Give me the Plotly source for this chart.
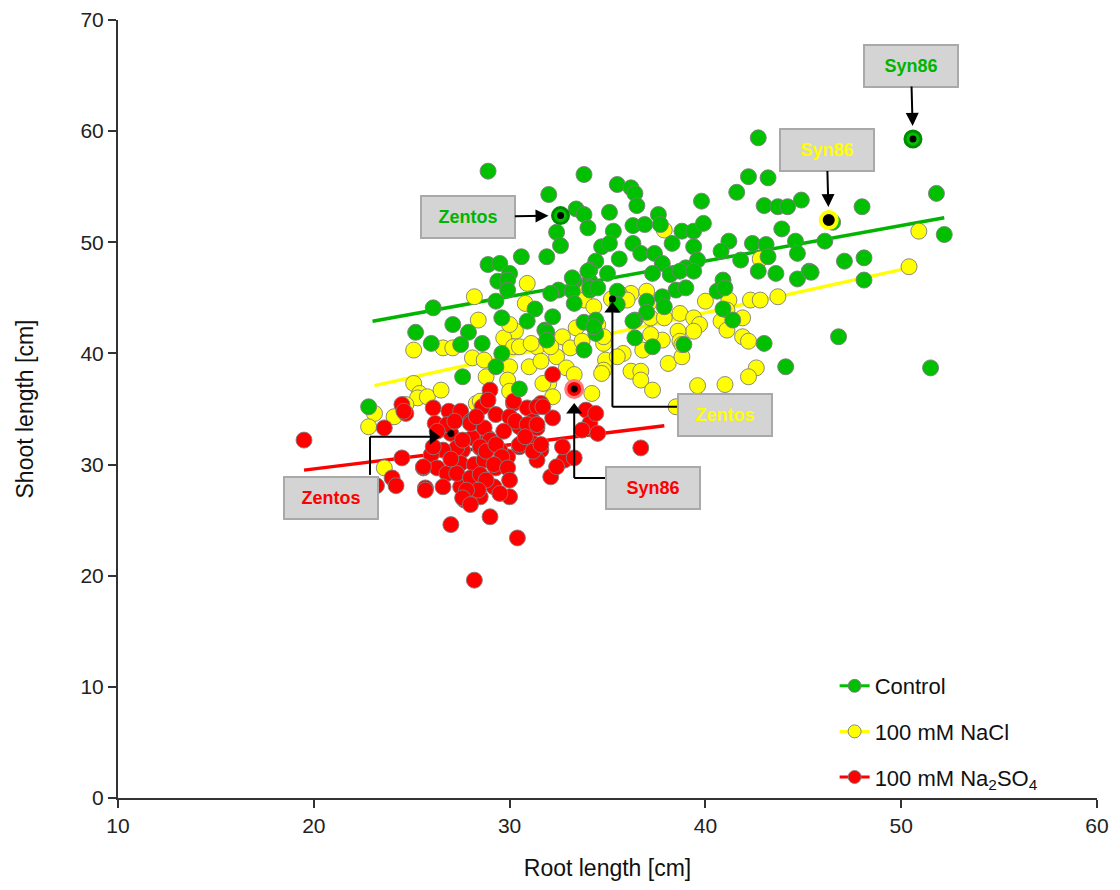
import plotly.graph_objects as go

# ---------------- data ----------------
control_root = [28.9, 32.0, 32.6, 33.8, 33.4, 33.8, 32.4, 32.6, 31.9, 34.0,
                35.5, 36.2, 36.4, 36.5, 35.1, 35.3, 36.3, 36.9, 37.6, 37.7,
                34.7, 35.1, 36.3, 36.7, 35.6, 34.4, 34.1, 37.4, 37.8, 38.3,
                38.8, 39.4, 39.9, 39.4, 39.6, 39.0, 38.2, 37.3, 38.5, 35.0,
                34.1, 33.3, 32.5, 33.2, 34.1, 35.5, 33.3, 37.0, 37.8, 37.9,
                37.0, 36.4, 33.8, 34.4, 34.4, 32.2, 31.8, 36.4, 37.3, 38.9,
                33.8, 40.6, 40.9, 40.9, 41.4, 41.2, 41.8, 42.4, 43.1, 43.2,
                42.7, 43.6, 43.9, 44.6, 44.7, 44.7, 45.3, 43.0, 44.1, 42.7,
                42.2, 43.2, 41.6, 44.9, 39.8, 43.0, 43.7, 44.2, 51.8, 48.0,
                46.5, 46.1, 40.8, 47.1, 48.1, 52.2, 45.4, 48.1, 46.8, 51.5,
                50.6, 28.9, 29.5, 30.6, 30.0, 29.4, 29.9, 29.9, 29.3, 26.1,
                31.3, 32.1, 29.6, 30.9, 27.1, 25.2, 27.9, 26.0, 27.5, 28.6,
                29.6, 29.3, 27.6, 31.9, 30.5, 22.8, 31.9, 33.2, 34.0, 34.1,
                34.3, 34.5, 35.5, 36.3, 39.0, 38.7, 39.4, 41.0]
control_shoot = [56.4, 54.3, 52.4, 56.1, 53.0, 52.5, 50.9, 49.7, 48.7, 51.3,
                 55.2, 54.9, 54.4, 53.3, 52.7, 51.0, 51.5, 51.6, 52.5, 51.6,
                 49.6, 49.9, 49.9, 49.0, 48.5, 48.3, 47.5, 49.0, 48.1, 49.9,
                 51.0, 51.0, 51.7, 49.6, 48.4, 47.7, 47.1, 47.2, 45.7, 47.2,
                 46.5, 46.5, 45.7, 45.6, 45.7, 45.6, 44.5, 44.7, 45.1, 44.2,
                 43.7, 43.0, 42.8, 43.0, 41.8, 43.3, 42.1, 41.4, 40.6, 40.8,
                 40.3, 45.6, 46.6, 44.0, 43.0, 50.1, 48.4, 49.9, 49.8, 48.7,
                 47.4, 47.2, 51.2, 50.1, 49.0, 46.7, 47.4, 40.9, 38.8, 59.4,
                 55.9, 55.8, 54.5, 53.8, 53.7, 53.3, 53.2, 53.2, 54.4, 53.2,
                 51.8, 50.1, 49.2, 48.3, 48.6, 50.7, 47.3, 46.6, 41.5, 38.7,
                 59.3, 48.0, 48.1, 48.7, 47.2, 46.5, 46.6, 45.7, 44.7, 44.1,
                 44.0, 45.4, 43.2, 42.9, 42.6, 41.9, 41.9, 40.9, 40.8, 40.9,
                 40.0, 38.8, 37.9, 41.9, 36.8, 35.2, 41.2, 46.8, 47.4, 45.9,
                 42.4, 45.9, 44.4, 42.9, 45.9, 47.4, 47.4, 45.9]

nacl_root = [30.9, 28.2, 30.8, 28.4, 30.3, 29.7, 25.1, 26.6, 27.1, 28.1,
             28.7, 30.2, 30.0, 31.0, 28.8, 29.9, 25.1, 25.4, 25.3, 32.0,
             32.4, 31.4, 30.0, 30.5, 31.1, 31.6, 32.7, 33.1, 33.4, 33.7,
             32.9, 33.3, 30.0, 31.7, 32.2, 25.8, 28.3, 34.2, 33.7, 34.5,
             33.9, 33.9, 36.2, 37.0, 37.1, 37.2, 37.9, 38.7, 39.4, 39.7,
             40.0, 39.4, 38.6, 38.7, 37.8, 37.2, 36.8, 35.8, 34.8, 34.9,
             34.8, 36.2, 36.7, 36.7, 37.3, 38.1, 38.8, 40.8, 41.1, 41.9,
             41.9, 42.2, 42.3, 42.8, 43.7, 42.6, 42.2, 41.0, 38.5, 46.3,
             50.9, 50.4, 42.8, 41.2, 24.7, 24.1, 23.6, 28.5, 28.8, 23.1,
             22.8, 35.2, 37.9, 35.6, 36.0, 33.6, 33.8, 34.3, 32.1, 34.8,
             35.5, 34.7, 39.6, 41.1, 38.8, 26.5]
nacl_shoot = [46.3, 45.1, 44.5, 43.0, 42.0, 41.4, 40.3, 40.5, 40.5, 39.6,
              39.4, 40.6, 38.8, 38.8, 37.9, 37.6, 37.3, 36.4, 36.0, 37.3,
              39.7, 40.6, 42.6, 40.6, 40.9, 39.3, 41.5, 40.5, 42.3, 41.1,
              38.7, 38.1, 36.6, 37.3, 36.1, 36.1, 35.5, 36.4, 45.0, 42.6,
              46.5, 45.7, 45.4, 45.6, 44.5, 43.2, 43.2, 43.6, 43.2, 42.6,
              44.7, 42.0, 42.0, 41.1, 41.2, 41.7, 40.3, 40.0, 40.9, 39.4,
              38.5, 38.4, 38.4, 37.6, 36.7, 39.1, 39.7, 42.9, 42.1, 43.2,
              41.5, 41.1, 44.8, 44.8, 45.1, 38.7, 37.9, 37.2, 35.2, 52.0,
              51.0, 47.8, 48.5, 44.8, 35.4, 34.3, 29.7, 35.7, 35.4, 34.6,
              33.4, 44.9, 51.1, 45.4, 44.8, 45.4, 44.8, 44.2, 40.6, 41.5,
              39.7, 38.2, 37.1, 43.9, 40.8, 36.7]

na2so4_root = [19.5, 24.5, 24.7, 23.6, 24.5, 24.0, 24.2, 23.2, 25.7, 25.6,
               26.1, 26.9, 27.0, 27.5, 28.0, 28.6, 29.3, 30.2, 30.9, 31.6,
               32.2, 32.2, 29.0, 30.2, 30.5, 31.2, 31.4, 28.1, 28.9, 28.5,
               27.6, 27.3, 26.6, 26.0, 26.3, 26.8, 27.5, 28.2, 28.7, 29.3,
               29.9, 29.5, 30.5, 31.2, 31.6, 31.4, 32.1, 32.8, 32.4, 32.7,
               27.5, 28.0, 27.7, 28.5, 29.2, 30.0, 27.0, 29.0, 30.4, 28.2,
               33.3, 30.2, 31.4, 33.9, 34.1, 33.7, 33.3, 26.2, 26.8, 27.3,
               28.0, 28.0, 28.7, 29.0, 28.5, 28.8, 27.6, 29.3, 29.6, 29.2,
               29.9, 30.0, 29.5, 30.5, 31.2, 31.6, 28.5, 28.8, 28.4, 27.8,
               27.6, 28.0, 26.6, 25.7, 30.0, 30.3, 30.9, 31.4, 36.7, 34.5,
               34.4, 31.7, 24.6, 26.1, 25.6, 26.3, 27.2, 27.0, 28.3, 29.7,
               30.8, 28.9]
na2so4_shoot = [32.2, 35.4, 34.6, 33.3, 30.6, 28.8, 28.1, 28.1, 27.9, 29.7,
                35.1, 34.8, 32.8, 34.8, 33.9, 35.2, 34.5, 35.5, 35.1, 35.5,
                34.2, 38.1, 36.7, 34.0, 33.4, 33.9, 33.3, 32.4, 32.4, 31.5,
                31.3, 31.5, 31.3, 30.9, 29.7, 29.2, 30.1, 30.0, 30.4, 29.7,
                30.7, 31.3, 31.6, 31.9, 31.3, 30.4, 28.9, 30.4, 29.8, 31.6,
                28.0, 27.7, 26.8, 27.1, 28.0, 27.1, 24.6, 25.3, 23.4, 19.6,
                36.8, 35.7, 35.2, 34.9, 33.7, 33.1, 30.6, 33.7, 33.6, 29.2,
                28.8, 33.7, 33.3, 32.2, 31.6, 31.2, 32.2, 31.8, 30.7, 30.0,
                29.7, 28.6, 27.4, 31.8, 31.2, 31.8, 29.1, 28.6, 27.7, 27.7,
                27.0, 26.4, 28.0, 27.7, 34.3, 33.9, 33.6, 33.6, 31.5, 32.8,
                34.6, 35.2, 34.8, 31.6, 29.8, 33.0, 33.9, 30.5, 34.3, 33.0,
                32.5, 35.8]

# regression line end points
control_fit_x = [23.0, 52.2]
control_fit_y = [42.9, 52.2]
nacl_fit_x = [23.1, 50.4]
nacl_fit_y = [37.1, 47.7]
na2so4_fit_x = [19.5, 37.9]
na2so4_fit_y = [29.5, 33.5]

# highlighted cultivars: [Zentos, Syn86]
cultivars = ["Zentos", "Syn86"]
control_hl_x = [32.6, 50.6]
control_hl_y = [52.4, 59.3]
nacl_hl_x = [35.25, 46.3]
nacl_hl_y = [44.9, 52.0]
na2so4_hl_x = [27.0, 33.3]
na2so4_hl_y = [32.8, 36.8]

GREEN = "#00c000"
YELLOW = "#ffff00"
RED = "#ff0000"
OUTLINE = "rgba(125,125,125,0.9)"
FONT = "Arial, 'Liberation Sans', sans-serif"

fig = go.Figure()

# regression lines (drawn below the points)
for fx, fy, col in [(control_fit_x, control_fit_y, "#00b400"),
                    (nacl_fit_x, nacl_fit_y, YELLOW),
                    (na2so4_fit_x, na2so4_fit_y, RED)]:
    fig.add_trace(go.Scatter(x=fx, y=fy, mode="lines", line=dict(color=col, width=3.5),
                             showlegend=False, hoverinfo="skip"))

# points
for xs, ys, col in [(nacl_root, nacl_shoot, YELLOW),
                    (na2so4_root, na2so4_shoot, RED),
                    (control_root, control_shoot, GREEN)]:
    fig.add_trace(go.Scatter(x=xs, y=ys, mode="markers",
                             marker=dict(size=16, color=col, line=dict(color=OUTLINE, width=1)),
                             showlegend=False))

# highlighted rings
fig.add_trace(go.Scatter(x=control_hl_x, y=control_hl_y, mode="markers", showlegend=False,
                         marker=dict(size=16, color=GREEN, line=dict(color="#008a00", width=3))))
fig.add_trace(go.Scatter(x=nacl_hl_x[1:], y=nacl_hl_y[1:], mode="markers", showlegend=False,
                         marker=dict(size=16, color="black", line=dict(color=YELLOW, width=4))))
fig.add_trace(go.Scatter(x=na2so4_hl_x[1:], y=na2so4_hl_y[1:], mode="markers", showlegend=False,
                         marker=dict(size=17, color=RED, line=dict(color="#ff7a7a", width=3))))
# black centre dots
fig.add_trace(go.Scatter(x=control_hl_x + nacl_hl_x + na2so4_hl_x,
                         y=control_hl_y + nacl_hl_y + na2so4_hl_y,
                         mode="markers", showlegend=False,
                         marker=dict(size=7, color="black")))

# legend entries
for name, col, grp in [("Control", GREEN, "a"), ("100 mM NaCl", YELLOW, "b"),
                       ("100 mM Na<sub>2</sub>SO<sub>4</sub>", RED, "c")]:
    fig.add_trace(go.Scatter(x=[None], y=[None], mode="lines+markers", name=name,
                             legendgroup=grp,
                             line=dict(color=col, width=3),
                             marker=dict(size=13, color=col, line=dict(color=OUTLINE, width=1))))

box = dict(bgcolor="#d4d4d4", bordercolor="#a9a9a9", borderwidth=2, borderpad=4,
           width=84, height=32)
annotations = []
# straight arrow labels
for txt, col, px, py, tx, ty, sd in [
        ("Zentos", "#00b400", control_hl_x[0], control_hl_y[0], 27.87, 52.3, 12),
        ("Syn86", "#00b400", control_hl_x[1], control_hl_y[1], 50.5, 65.9, 13),
        ("Syn86", "#ffff00", nacl_hl_x[1], nacl_hl_y[1], 46.2, 58.3, 13)]:
    annotations.append(dict(x=px, y=py, ax=tx, ay=ty, xref="x", yref="y", axref="x", ayref="y",
                            text="<b>%s</b>" % txt, font=dict(family=FONT, size=18, color=col),
                            showarrow=True, arrowhead=2, arrowsize=1.3, arrowwidth=2,
                            arrowcolor="black", standoff=sd, **box))
# elbow labels: text boxes
for txt, col, tx, ty in [("Zentos", "#ffff00", 41.0, 34.5),
                         ("Syn86", "#ff0000", 37.32, 27.9),
                         ("Zentos", "#ff0000", 20.88, 27.0)]:
    annotations.append(dict(x=tx, y=ty, xref="x", yref="y", showarrow=False,
                            text="<b>%s</b>" % txt, font=dict(family=FONT, size=18, color=col),
                            **box))

# elbow connector lines: (box edge -> corner -> just before arrow head)
shapes = []
elbows = [
    [(38.7, 35.2), (nacl_hl_x[0], 35.2), (nacl_hl_x[0], 43.9)],
    [(35.13, 28.8), (na2so4_hl_x[1], 28.8), (na2so4_hl_x[1], 34.8)],
    [(22.87, 29.07), (22.87, 32.5), (26.0, 32.5)],
]
for pts in elbows:
    for (x0, y0), (x1, y1) in zip(pts[:-1], pts[1:]):
        shapes.append(dict(type="line", xref="x", yref="y", x0=x0, y0=y0, x1=x1, y1=y1,
                           line=dict(color="black", width=2)))

# arrow heads of the elbow connectors
fig.add_trace(go.Scatter(x=[nacl_hl_x[0], na2so4_hl_x[1], 26.1],
                         y=[44.0, 34.9, 32.5], mode="markers", showlegend=False,
                         hoverinfo="skip",
                         marker=dict(symbol=["triangle-up", "triangle-up", "triangle-right"],
                                     size=14, color="black", line=dict(width=0))))

axis_common = dict(showline=True, linewidth=2, linecolor="#333", ticks="outside", ticklen=8,
                   tickwidth=2, tickcolor="#333", showgrid=False, zeroline=False,
                   automargin=False,
                   tickfont=dict(family=FONT, size=21, color="#222"))

fig.update_layout(
    width=1120, height=890, autosize=False,
    margin=dict(l=118, r=23, t=20, b=92),
    plot_bgcolor="white", paper_bgcolor="white",
    font=dict(family=FONT, color="#111"),
    xaxis=dict(range=[10, 60], tickvals=[10, 20, 30, 40, 50, 60],
               title=dict(text="Root length [cm]", font=dict(family=FONT, size=23, color="#111"),
                          standoff=24),
               **axis_common),
    yaxis=dict(range=[0, 70], tickvals=[0, 10, 20, 30, 40, 50, 60, 70],
               title=dict(text="Shoot length [cm]", font=dict(family=FONT, size=23, color="#111"),
                          standoff=40),
               **axis_common),
    legend=dict(x=0.732, y=0.0, xanchor="left", yanchor="bottom",
                bgcolor="rgba(255,255,255,0)", tracegroupgap=14,
                font=dict(family=FONT, size=22, color="#111")),
    annotations=annotations,
    shapes=shapes,
)

fig.write_html("out.html")
